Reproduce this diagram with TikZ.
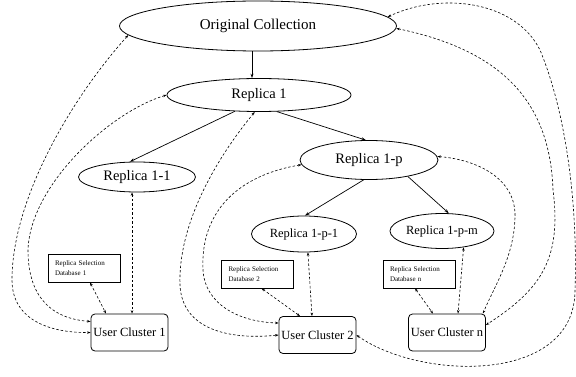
\documentclass[tikz,border=0pt]{standalone}
\usepackage{fontspec}
\setmainfont{Liberation Serif}
\usetikzlibrary{shapes.geometric,arrows.meta,calc}
\begin{document}
\begin{tikzpicture}[x=1pt,y=-1pt,
  ell/.style={ellipse, draw, line width=0.8pt, inner sep=0pt},
  uc/.style={rectangle, rounded corners=4pt, draw, line width=0.8pt, minimum width=77pt, minimum height=37pt, inner sep=0pt, font=\fontsize{12.5}{14}\selectfont},
  db/.style={rectangle, draw, line width=0.7pt, minimum width=72pt, minimum height=28pt, inner xsep=7pt, inner ysep=0pt, text width=58pt, align=left, font=\fontsize{7}{10}\selectfont},
  tree/.style={-{Stealth[length=4.5pt,width=3pt]}, line width=0.7pt},
  link/.style={{Stealth[length=3.5pt,width=2.5pt]}-{Stealth[length=3.5pt,width=2.5pt]}, dash pattern=on 2.5pt off 2pt, line width=0.6pt}]
\useasboundingbox (0,0) rectangle (576,377);

% ellipses
\node[ell, minimum width=277pt, minimum height=50pt, font=\fontsize{15}{17}\selectfont] (OC) at (258,26) {Original Collection};
\node[ell, minimum width=184pt, minimum height=33pt, font=\fontsize{14.5}{16}\selectfont] (R1) at (259,95) {Replica 1};
\node[ell, minimum width=117pt, minimum height=30pt, font=\fontsize{14.5}{16}\selectfont] (R11) at (137,177) {Replica 1-1};
\node[ell, minimum width=138pt, minimum height=39pt, font=\fontsize{14.5}{16}\selectfont] (R1p) at (369,160) {Replica 1-p};
\node[ell, minimum width=105pt, minimum height=36pt, font=\fontsize{12.5}{14}\selectfont] (R1p1) at (304,234) {Replica 1-p-1};
\node[ell, minimum width=104pt, minimum height=35pt, font=\fontsize{12.5}{14}\selectfont] (R1pm) at (442,231) {Replica 1-p-m};

% databases
\node[db] (D1) at (84,268) {Replica Selection\\Database 1};
\node[db] (D2) at (257.5,274) {Replica Selection\\Database 2};
\node[db] (Dn) at (419,274) {Replica Selection\\Database n};

% user clusters
\node[uc] (U1) at (129.5,332.5) {User Cluster 1};
\node[uc] (U2) at (317.5,335) {User Cluster 2};
\node[uc] (Un) at (447,332.5) {User Cluster n};

% tree arrows
\draw[tree] ([xshift=-6pt]OC.south) -- ([xshift=-7pt]R1.north);
\draw[tree] (R1.214) -- (R11.115);
\draw[tree] (R1.317) -- (R1p.99);
\draw[tree] (R1p.255) -- (R1p1.87);
\draw[tree] (R1p.337) -- (R1pm.69);

% cluster 1 links
\draw[link] (R11.252) -- (R11.252 |- U1.north);
\draw[link] ([xshift=6pt]D1.south) -- ([xshift=-23.5pt]U1.north);
\draw[link] (R1.west) .. controls (110,112) and (30,185) .. (28,250)
  .. controls (28,290) and (45,318) .. ([yshift=11pt]U1.west);
\draw[link] (OC.184) .. controls (70,100) and (12,200) .. (12,280)
  .. controls (12,320) and (50,333) .. (U1.west);

% cluster 2 links
\draw[link] (R1p1.282) -- ([xshift=-5.5pt]U2.north);
\draw[link] ([xshift=4pt]D2.south) -- ([xshift=-17.5pt]U2.north);
\draw[link] (R1p.184) .. controls (240,175) and (200,210) .. (203,270)
  .. controls (205,305) and (240,322) .. ([yshift=12pt]U2.west);
\draw[link] (R1.256) .. controls (215,160) and (178,225) .. (180,285)
  .. controls (182,330) and (230,340) .. (U2.west);
\draw[link] (U2.east) .. controls (420,380) and (575,385) .. (575,290)
  .. controls (578,200) and (565,110) .. (540,50)
  .. controls (515,0) and (440,-8) .. (OC.4);

% cluster n links
\draw[link] (R1pm.323) -- ([xshift=11pt]Un.north);
\draw[link] ([xshift=-4pt]Dn.south) -- ([xshift=-14pt]Un.north);
\draw[link] (R1p.3) .. controls (480,160) and (515,180) .. (515,215)
  .. controls (515,255) and (495,285) .. ([xshift=-3pt]Un.north east);
\draw[link] (OC.359) .. controls (500,50) and (550,100) .. (553,190)
  .. controls (562,260) and (540,290) .. ([yshift=7.5pt]Un.east);
\end{tikzpicture}
\end{document}
